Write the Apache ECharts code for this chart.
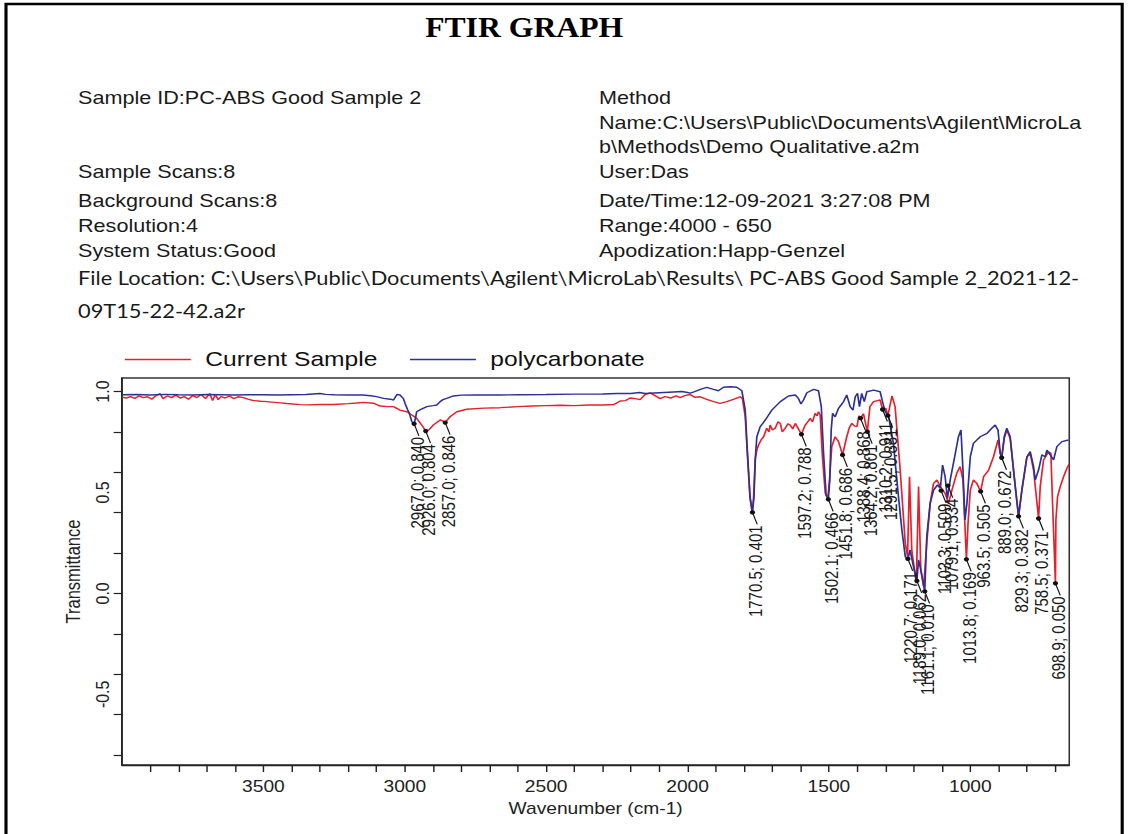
<!DOCTYPE html>
<html>
<head>
<meta charset="utf-8">
<script src="https://cdn.jsdelivr.net/npm/echarts@6/dist/echarts.min.js"></script>
<style>
html,body{margin:0;padding:0;background:#fff;overflow:hidden;}
#wrap{width:1133px;height:834px;overflow:hidden;position:relative;background:#fff;}
#chart{width:944px;height:834px;position:absolute;left:0;top:0;transform:scaleX(1.20021);transform-origin:0 0;}
</style>
</head>
<body>
<div id="wrap"><div id="chart"></div></div>
<script>
// ---------------- data ----------------
const titleText = 'FTIR GRAPH';
const infoLeft = ['Sample ID:PC-ABS Good Sample 2', 'Sample Scans:8', 'Background Scans:8', 'Resolution:4', 'System Status:Good'];
const infoRight = ['Method', 'Name:C:\\Users\\Public\\Documents\\Agilent\\MicroLa', 'b\\Methods\\Demo Qualitative.a2m', 'User:Das', 'Date/Time:12-09-2021 3:27:08 PM', 'Range:4000 - 650', 'Apodization:Happ-Genzel'];
const fileLocation = ['File Location: C:\\Users\\Public\\Documents\\Agilent\\MicroLab\\Results\\ PC-ABS Good Sample 2_2021-12-', '09T15-22-42.a2r'];
const seriesNames = ['Current Sample', 'polycarbonate'];
const xAxisName = 'Wavenumber (cm-1)';
const yAxisName = 'Transmittance';
const xTickValues = [700,800,900,1000,1100,1200,1300,1400,1500,1600,1700,1800,1900,2000,2100,2200,2300,2400,2500,2600,2700,2800,2900,3000,3100,3200,3300,3400,3500,3600,3700,3800,3900];
const xLabelValues = [1000,1500,2000,2500,3000,3500];
const yTickValues = [-0.8,-0.6,-0.4,-0.2,0,0.2,0.4,0.6,0.8,1.0];
const yLabelValues = [-0.5,0,0.5,1.0];

// Current Sample (red) [wavenumber, transmittance]
const currentSample = [
[4000,0.972],[3985,0.968],[3970,0.975],[3955,0.966],[3940,0.978],[3925,0.970],[3910,0.974],[3895,0.962],[3880,0.980],[3866,0.990],[3855,0.965],[3840,0.978],[3825,0.970],[3810,0.982],[3795,0.968],[3780,0.975],[3765,0.962],[3750,0.980],[3735,0.970],[3720,0.985],[3705,0.965],[3690,0.990],[3680,0.955],[3670,0.985],[3660,0.960],[3650,0.975],[3635,0.968],[3620,0.978],[3605,0.965],[3590,0.974],[3571,0.970],[3555,0.962],[3535,0.955],[3510,0.952],[3488,0.950],[3460,0.946],[3440,0.944],[3418,0.941],[3395,0.938],[3370,0.935],[3340,0.934],[3300,0.936],[3252,0.936],[3200,0.940],[3170,0.943],[3146,0.946],[3111,0.942],[3087,0.928],[3060,0.925],[3040,0.925],[3017,0.908],[2993,0.900],[2975,0.884],[2958,0.867],[2940,0.834],[2926,0.804],[2915,0.810],[2899,0.834],[2875,0.859],[2866,0.855],[2857,0.846],[2848,0.862],[2840,0.875],[2816,0.900],[2781,0.912],[2720,0.918],[2663,0.920],[2600,0.925],[2550,0.928],[2500,0.930],[2450,0.932],[2400,0.930],[2350,0.933],[2300,0.933],[2260,0.936],[2238,0.953],[2220,0.955],[2203,0.968],[2185,0.965],[2168,0.960],[2150,0.985],[2132,0.993],[2115,0.980],[2097,0.965],[2080,0.975],[2060,0.968],[2040,0.978],[2026,0.970],[2010,0.980],[1991,0.985],[1975,0.972],[1955,0.974],[1932,0.961],[1908,0.950],[1885,0.941],[1861,0.950],[1838,0.961],[1814,0.974],[1806,0.966],[1796,0.875],[1788,0.677],[1779,0.471],[1772,0.405],[1767,0.463],[1761,0.661],[1755,0.710],[1749,0.735],[1740,0.760],[1731,0.776],[1720,0.818],[1712,0.800],[1708,0.834],[1700,0.810],[1690,0.818],[1680,0.850],[1672,0.842],[1665,0.800],[1655,0.818],[1645,0.840],[1637,0.834],[1628,0.815],[1619,0.842],[1610,0.820],[1597.2,0.788],[1584,0.834],[1575,0.850],[1566,0.867],[1558,0.850],[1549,0.892],[1542,0.880],[1537,0.900],[1531,0.884],[1523,0.677],[1513,0.496],[1504,0.470],[1498,0.562],[1490,0.727],[1478,0.776],[1466,0.752],[1451.8,0.686],[1437,0.776],[1428,0.820],[1419,0.842],[1410,0.830],[1401,0.826],[1394,0.880],[1388.4,0.868],[1378,0.890],[1364.2,0.801],[1355,0.925],[1342,0.950],[1319,0.958],[1310.2,0.911],[1299,0.917],[1291.5,0.881],[1277,0.978],[1266,0.925],[1248,0.611],[1230,0.248],[1222,0.182],[1215,0.578],[1207,0.215],[1191,0.050],[1183,0.529],[1175,0.116],[1165,0.034],[1154,0.248],[1142,0.446],[1130,0.545],[1118,0.562],[1106,0.529],[1089,0.496],[1077,0.446],[1065,0.512],[1048,0.595],[1036,0.628],[1026,0.562],[1013.8,0.169],[1008,0.347],[1000,0.512],[989,0.562],[977,0.545],[963.5,0.505],[953,0.578],[935,0.611],[918,0.677],[902,0.760],[894,0.694],[889,0.672],[880,0.768],[871,0.809],[859,0.768],[841,0.529],[829.3,0.380],[817.6,0.512],[799.9,0.674],[788.1,0.694],[776.3,0.611],[758.5,0.371],[752.7,0.529],[740.9,0.661],[723.2,0.702],[715,0.694],[709.1,0.446],[698.9,0.050],[697.3,0.364],[691.4,0.479],[682,0.529],[670.2,0.578],[660.7,0.611],[652.5,0.636],[650,0.640]
];

// polycarbonate (blue) [wavenumber, transmittance]
const polycarbonate = [
[4000,0.984],[3950,0.985],[3900,0.983],[3850,0.986],[3800,0.984],[3750,0.983],[3700,0.985],[3650,0.984],[3600,0.983],[3550,0.984],[3500,0.984],[3450,0.983],[3400,0.984],[3350,0.985],[3300,0.990],[3280,0.986],[3250,0.984],[3200,0.983],[3150,0.983],[3120,0.979],[3100,0.975],[3075,0.966],[3052,0.962],[3040,0.958],[3028,0.985],[3017,0.983],[3005,0.965],[2999,0.941],[2990,0.910],[2984,0.892],[2975,0.850],[2967,0.840],[2962,0.870],[2958,0.900],[2945,0.910],[2922,0.925],[2900,0.930],[2887,0.933],[2875,0.950],[2865,0.960],[2852,0.966],[2828,0.978],[2800,0.982],[2750,0.983],[2700,0.983],[2663,0.983],[2600,0.984],[2500,0.985],[2400,0.987],[2300,0.988],[2250,0.990],[2200,0.990],[2170,0.995],[2150,0.990],[2100,0.994],[2050,0.998],[2020,1.000],[2000,0.995],[1990,0.992],[1975,1.000],[1955,1.011],[1932,1.021],[1908,1.011],[1891,1.004],[1873,1.021],[1849,1.024],[1826,1.021],[1808,1.004],[1796,0.908],[1788,0.694],[1779,0.479],[1770.5,0.401],[1765,0.479],[1760,0.677],[1755,0.776],[1743,0.826],[1725,0.859],[1702,0.908],[1672,0.950],[1643,0.978],[1619,0.983],[1608,0.966],[1599,0.938],[1590,0.958],[1578,0.994],[1554,1.011],[1537,1.004],[1527,0.925],[1519,0.694],[1510,0.488],[1502.1,0.466],[1497,0.562],[1492,0.809],[1487,0.892],[1478,0.875],[1466,0.917],[1448,0.950],[1437,0.983],[1425,0.925],[1415,0.908],[1407,0.974],[1399,0.991],[1392,0.925],[1384,0.991],[1375,0.950],[1366,0.999],[1342,1.007],[1319,0.999],[1309,0.941],[1301,0.900],[1289,0.875],[1272,0.743],[1254,0.479],[1242,0.314],[1230,0.182],[1220.7,0.171],[1213,0.215],[1201,0.133],[1189,0.062],[1183,0.166],[1175,0.116],[1161.1,0.010],[1154,0.281],[1142,0.446],[1130,0.512],[1116,0.537],[1106,0.521],[1098,0.636],[1089,0.578],[1081,0.471],[1071,0.562],[1053,0.694],[1042,0.776],[1033,0.809],[1026,0.611],[1019,0.364],[1012,0.446],[1000,0.677],[989,0.743],[965,0.776],[941,0.793],[924,0.818],[912,0.834],[902,0.809],[894,0.694],[889,0.672],[880,0.776],[871,0.818],[859,0.776],[841,0.529],[829.3,0.382],[817.6,0.512],[799.9,0.677],[788.1,0.702],[776.3,0.628],[770.4,0.562],[758.6,0.611],[746.8,0.686],[735,0.677],[729.1,0.710],[717.3,0.686],[705.5,0.661],[693.8,0.727],[676.1,0.752],[652.5,0.760],[650,0.760]
];

// labelled peaks [wavenumber, transmittance]
const peaks = [
[2967.0,0.840],[2926.0,0.804],[2857.0,0.846],[1770.5,0.401],[1597.2,0.788],[1502.1,0.466],[1451.8,0.686],[1388.4,0.868],[1364.2,0.801],[1310.2,0.911],[1291.5,0.881],[1220.7,0.171],[1189.0,0.062],[1161.1,0.010],[1103.3,0.509],[1079.1,0.534],[1013.8,0.169],[963.5,0.505],[889.0,0.672],[829.3,0.382],[758.5,0.371],[698.9,0.050]
];

// ---------------- layout / style ----------------
const RED = '#e5212c';
const BLUE = '#2d3192';
const SANS = '"Liberation Sans", Arial, sans-serif';

function textWidth(t, f) {
  const ctx = document.createElement('canvas').getContext('2d');
  ctx.font = f;
  return ctx.measureText(t).width;
}
const fileFont = '18.5px Lato';
const fileScale = 835 / textWidth(fileLocation[0], fileFont);

const leftX = 65, rightX = 499;
const leftY = [97.3, 172, 200.5, 225.5, 250.5];
const rightY = [97.3, 122.5, 147, 172, 200.5, 225.5, 250.5];
const fileY = [277.5, 311];

const graphics = [];
graphics.push({type:'rect', silent:true, shape:{x:5, y:4, width:930, height:840}, style:{fill:'none', stroke:'#000', lineWidth:2.6}});
graphics.push({type:'text', silent:true, x:436.7, y:27, scaleX:0.88, style:{text:titleText, font:'bold 30px "Liberation Serif", "Times New Roman", serif', fill:'#000', align:'center', verticalAlign:'middle'}});
infoLeft.forEach((t, i) => graphics.push({type:'text', silent:true, x:leftX, y:leftY[i], style:{text:t, font:'18px ' + SANS, fill:'#1a1a1a', align:'left', verticalAlign:'middle'}}));
infoRight.forEach((t, i) => graphics.push({type:'text', silent:true, x:rightX, y:rightY[i], style:{text:t, font:'18px ' + SANS, fill:'#1a1a1a', align:'left', verticalAlign:'middle'}}));
fileLocation.forEach((t, i) => graphics.push({type:'text', silent:true, x:leftX, y:fileY[i], scaleX:fileScale, style:{text:t, font:fileFont, fill:'#1a1a1a', align:'left', verticalAlign:'middle'}}));

const chart = echarts.init(document.getElementById('chart'), null, {renderer:'svg'});
chart.setOption({
  animation: false,
  backgroundColor: '#fff',
  graphic: graphics,
  legend: {
    data: seriesNames, left: 104, top: 349, padding: 0,
    icon: 'rect', itemWidth: 55, itemHeight: 1.6, itemGap: 27,
    textStyle: {fontSize: 20.5, fontFamily: SANS, color: '#111', padding: [0,0,0,7]}
  },
  grid: {left: 101.7, right: 53.1, top: 378, bottom: 69, show: true, borderColor: '#333', borderWidth: 1.3, backgroundColor: 'transparent', outerBoundsMode: 'none'},
  xAxis: {
    type: 'value', min: 650, max: 4000, inverse: true,
    name: xAxisName, nameLocation: 'middle', nameGap: 36,
    nameTextStyle: {fontSize: 16, fontFamily: SANS, color: '#222'},
    axisLine: {show: true, onZero: false, lineStyle: {color: '#222', width: 1.3}},
    axisTick: {show: true, inside: false, length: 7, lineStyle: {color: '#222', width: 1.2}, customValues: xTickValues},
    axisLabel: {fontSize: 16, fontFamily: SANS, color: '#222', margin: 14, customValues: xLabelValues, formatter: v => String(v)},
    splitLine: {show: false}
  },
  yAxis: {
    type: 'value', min: -0.85, max: 1.067,
    name: yAxisName, nameLocation: 'middle', nameGap: 19,
    nameTextStyle: {fontSize: 16.5, fontFamily: SANS, color: '#222'},
    axisLine: {show: true, onZero: false, lineStyle: {color: '#222', width: 1.3}},
    axisTick: {show: true, inside: false, length: 7, lineStyle: {color: '#222', width: 1.2}, customValues: yTickValues},
    axisLabel: {fontSize: 16, fontFamily: SANS, color: '#222', margin: 8, rotate: 90, customValues: yLabelValues, formatter: v => Number(v).toFixed(1)},
    splitLine: {show: false}
  },
  series: [
    {name: seriesNames[0], type: 'line', data: currentSample, symbol: 'none', color: RED, lineStyle: {color: RED, width: 1.4}, z: 2},
    {name: seriesNames[1], type: 'line', data: polycarbonate, symbol: 'none', color: BLUE, lineStyle: {color: BLUE, width: 1.4}, z: 3},
    {
      name: 'peaks', type: 'custom', data: peaks, z: 5, encode: {x: 0, y: 1},
      renderItem: function (params, api) {
        const wn = api.value(0), tv = api.value(1);
        const p = api.coord([wn, tv]);
        return {
          type: 'group',
          children: [
            {type: 'line', shape: {x1: p[0], y1: p[1], x2: p[0] + 4, y2: p[1] + 12}, style: {stroke: '#111', lineWidth: 1}},
            {type: 'circle', shape: {cx: p[0], cy: p[1], r: 2.2}, style: {fill: '#111'}},
            {type: 'text', x: p[0] + 3, y: p[1] + 13, rotation: Math.PI / 2,
             style: {text: wn.toFixed(1) + '; ' + tv.toFixed(3), font: '15px ' + SANS, fill: '#1a1a1a', align: 'right', verticalAlign: 'middle'}}
          ]
        };
      }
    }
  ]
});
</script>
</body>
</html>
